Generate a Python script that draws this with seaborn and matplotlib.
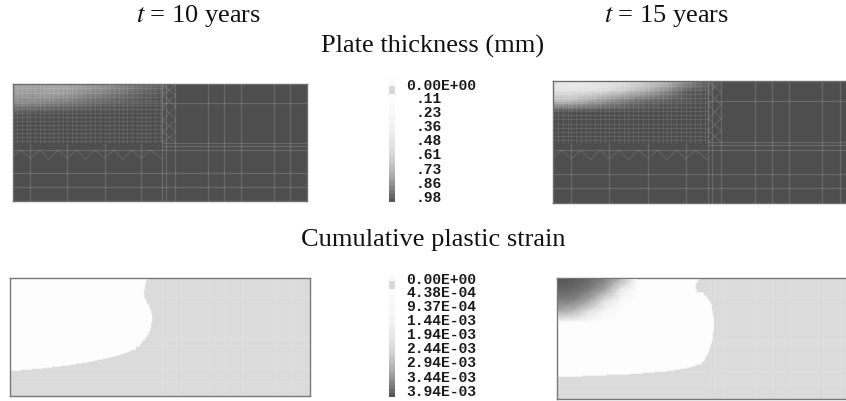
import numpy as np
import matplotlib
matplotlib.use("Agg")
import matplotlib.pyplot as plt
import seaborn as sns
from matplotlib.colors import LinearSegmentedColormap

# labels
thickness_labels = ["0.00E+00", ".11", ".23", ".36", ".48", ".61", ".73", ".86", ".98"]
strain_labels = ["0.00E+00", "4.38E-04", "9.37E-04", "1.44E-03", "1.94E-03",
                 "2.44E-03", "2.94E-03", "3.44E-03", "3.94E-03"]

# plate thickness (mm) read at the top rows of each plate, rest of the plate is 0.98
thick_base = 0.98
thick_10 = [
    [.48, .48, .48, .48, .52, .57, .66, .75, .83],
    [.55, .55, .52, .55, .64, .70, .79, .87, .93],
    [.66, .68, .72, .76, .83, .87, .91, .94, .96],
    [.92, .94, .96, .96, .97, .97, .98, .98, .98],
]
thick_15 = [
    [.13, .11, .11, .13, .17, .25, .36, .58, .83],
    [.17, .15, .17, .22, .33, .47, .66, .88, .94],
    [.36, .39, .50, .64, .77, .86, .91, .94, .97],
    [.94, .96, .97, .97, .97, .98, .98, .98, .98],
]

# right edge of the low strain zone: every third pixel row at the top, every row on the curve
edge_10_top = [139, 137, 136, 136, 135, 135, 135, 137, 138, 140, 141, 142, 143, 143, 143,
               142, 142, 141, 140, 138, 136, 133, 131, 127]
edge_10_low = [123, 121, 119, 116, 113, 110, 106, 102, 98, 94, 89, 84, 79, 73, 67, 61, 52,
               43, 34, 23, 12, 1]
edge_15_top = [143, 141, 139, 139, 140, 147, 150, 152, 154, 155, 155, 156, 156, 157, 157, 157,
               157, 157, 156, 156, 156, 155, 154, 153, 152, 151, 149, 148, 145]
edge_15_low = [140, 137, 134, 130, 124, 118, 110, 98, 86, 73, 50, 26, 2]
strain_low = 4.38e-4
corner_15 = [
    [3.94e-3, 3.83e-3, 3.52e-3, 3.00e-3, 1.96e-3, 0.50e-3],
    [3.63e-3, 3.52e-3, 3.10e-3, 2.27e-3, 0.81e-3, 0.46e-3],
    [3.10e-3, 3.00e-3, 2.27e-3, 1.02e-3, 0.50e-3, 0.46e-3],
    [2.17e-3, 1.85e-3, 1.02e-3, 0.54e-3, 0.46e-3, 0.46e-3],
    [0.60e-3, 0.50e-3, 0.46e-3, 0.46e-3, 0.46e-3, 0.46e-3],
]

# grey levels of the two scale bars, top to bottom
bar_shades = [250, 250, 216, 216, 252, 252, 250, 250, 248, 247, 245, 243, 241, 238, 235, 232,
              228, 224, 218, 212, 206, 198, 190, 180, 170, 158, 146, 132, 118, 104, 88]

# finite element mesh lines, on an 880 x 350 plate
dense_x = [14, 28, 42, 53, 67, 81, 95, 108, 122, 136, 150, 163, 177, 191, 205, 218, 232, 246,
           260, 275, 289, 303, 317, 329, 343, 357, 371, 384, 398, 412, 426, 440, 448]
dense_y = [13, 26, 38, 50, 56, 62, 74, 86, 98, 110, 122, 134, 146, 158, 170]
low_x = [53, 163, 275, 384]
long_x = [448, 460, 487, 585, 633, 683, 780, 830]
long_y = [198, 268, 308]
right_y = [56, 176, 185]
zig_x = [0, 25, 53, 82, 108, 136, 163, 192, 218, 247, 275, 303, 329, 358, 384, 412, 448]
zig_y = [220, 198, 223, 198, 226, 198, 223, 198, 226, 198, 223, 198, 226, 198, 223, 198, 226]
cross_x = [450, 487, 450, 487, 450, 487]
cross_y = [3, 33, 68, 108, 143, 176]

W, H = 846, 401
sns.set_theme(style="white")
plt.rcParams["font.family"] = ["Liberation Serif", "DejaVu Serif"]

thick_cmap = LinearSegmentedColormap.from_list("thick", ["#ffffff", "#4a4a4a"])
strain_cmap = LinearSegmentedColormap.from_list(
    "strain", [(0, "#dbdbdb"), (strain_low / 3.94e-3, "#fdfdfd"), (1, "#555555")])

fig = plt.figure(figsize=(W / 100, H / 100), dpi=100)


def panel(x0, y0, x1, y1):
    return fig.add_axes([x0 / W, 1 - y1 / H, (x1 - x0) / W, (y1 - y0) / H])


def smooth(ax, data, cmap, vmin, vmax):
    # gouraud puts the values on the vertices, so the limits are one short
    sns.heatmap(data, ax=ax, cmap=cmap, vmin=vmin, vmax=vmax, cbar=False,
                xticklabels=False, yticklabels=False, shading="gouraud")
    ax.set_xlim(0, data.shape[1] - 1)
    ax.set_ylim(data.shape[0] - 1, 0)


def border(ax, color, lw=1.0):
    for s in ax.spines.values():
        s.set_visible(True)
        s.set_color(color)
        s.set_linewidth(lw)


def line(ax, xs, ys, lw, alpha):
    ax.plot(np.array(xs) / 880, 1 - np.array(ys) / 350, transform=ax.transAxes,
            color="white", lw=lw, alpha=alpha, solid_capstyle="butt")


def draw_plate_mesh(ax):
    for x in dense_x:
        line(ax, [x, x], [0, 178], 0.8, 0.09)
    for y in dense_y:
        line(ax, [0, 450], [y, y], 0.8, 0.09)
    for x in low_x:
        line(ax, [x, x], [178, 350], 0.9, 0.15)
    line(ax, zig_x, zig_y, 0.8, 0.11)
    line(ax, cross_x, cross_y, 0.8, 0.11)
    line(ax, cross_x[::-1], cross_y, 0.8, 0.11)
    draw_long_lines(ax, 0.15)


def draw_long_lines(ax, alpha):
    for x in long_x:
        line(ax, [x, x], [0, 350], 0.9, alpha)
    for y in long_y:
        line(ax, [0, 880], [y, y], 0.9, alpha)
    for y in right_y:
        line(ax, [450, 880], [y, y], 0.9, alpha)


def thick_field(rows):
    data = np.full((13, 17), thick_base)
    data[:4, :9] = rows
    return data


def strain_field(top, low, n_rows):
    data = np.zeros((n_rows, 300))
    edges = list(np.repeat(top, 3)) + low
    for i, e in enumerate(edges):
        data[i, :e] = strain_low
    return data


# plate thickness
ax = panel(12.5, 84, 307, 200.5)
smooth(ax, thick_field(thick_10), thick_cmap, 0, 1)
draw_plate_mesh(ax)
border(ax, "#6e6e6e")

ax = panel(553, 81, 857, 203)
smooth(ax, thick_field(thick_15), thick_cmap, 0, 1)
draw_plate_mesh(ax)
border(ax, "#6e6e6e")

# cumulative plastic strain
ax = panel(9.5, 278, 309.5, 396)
smooth(ax, strain_field(edge_10_top, edge_10_low, 118), strain_cmap, 0, 3.94e-3)
draw_long_lines(ax, 0.12)
border(ax, "#777777")

ax = panel(557, 278, 857, 399)
smooth(ax, strain_field(edge_15_top, edge_15_low, 121), strain_cmap, 0, 3.94e-3)
draw_long_lines(ax, 0.12)
border(ax, "#777777")

ax = panel(557.5, 278.5, 637, 322)
ax.set_zorder(5)
smooth(ax, np.array(corner_15), strain_cmap, 0, 3.94e-3)

# scale bars
for top, bottom in [(78, 202), (273, 397)]:
    ax = panel(389, top, 395, bottom)
    sns.heatmap(np.array(bar_shades).reshape(-1, 1), ax=ax, cmap="gray", vmin=0, vmax=255,
                cbar=False, xticklabels=False, yticklabels=False)

mono = dict(family="Liberation Mono", weight="bold", fontsize=10.5, color="#1a1a1a",
            va="center", ha="left")
for lab, y in zip(thickness_labels, [85.5, 99, 113, 127, 141, 155, 170, 184, 198]):
    # the short labels start one character in
    x = 406 if len(lab) > 3 else 416
    fig.text(x / W, 1 - y / H, lab, **mono)
for lab, y in zip(strain_labels, [279.5, 293, 307, 321, 335, 349, 363, 378, 392]):
    fig.text(406 / W, 1 - y / H, lab, **mono)

# headings
head = dict(fontsize=19, color="#111111", ha="center", va="center")
fig.text(198.5 / W, 1 - 16 / H, r"$\mathit{t}$ = 10 years", math_fontfamily="stix", **head)
fig.text(667 / W, 1 - 16 / H, r"$\mathit{t}$ = 15 years", math_fontfamily="stix", **head)
fig.text(433 / W, 1 - 46 / H, "Plate thickness (mm)", **head)
fig.text(433 / W, 1 - 240 / H, "Cumulative plastic strain", **head)

fig.savefig("out.png", dpi=100, facecolor="white")
